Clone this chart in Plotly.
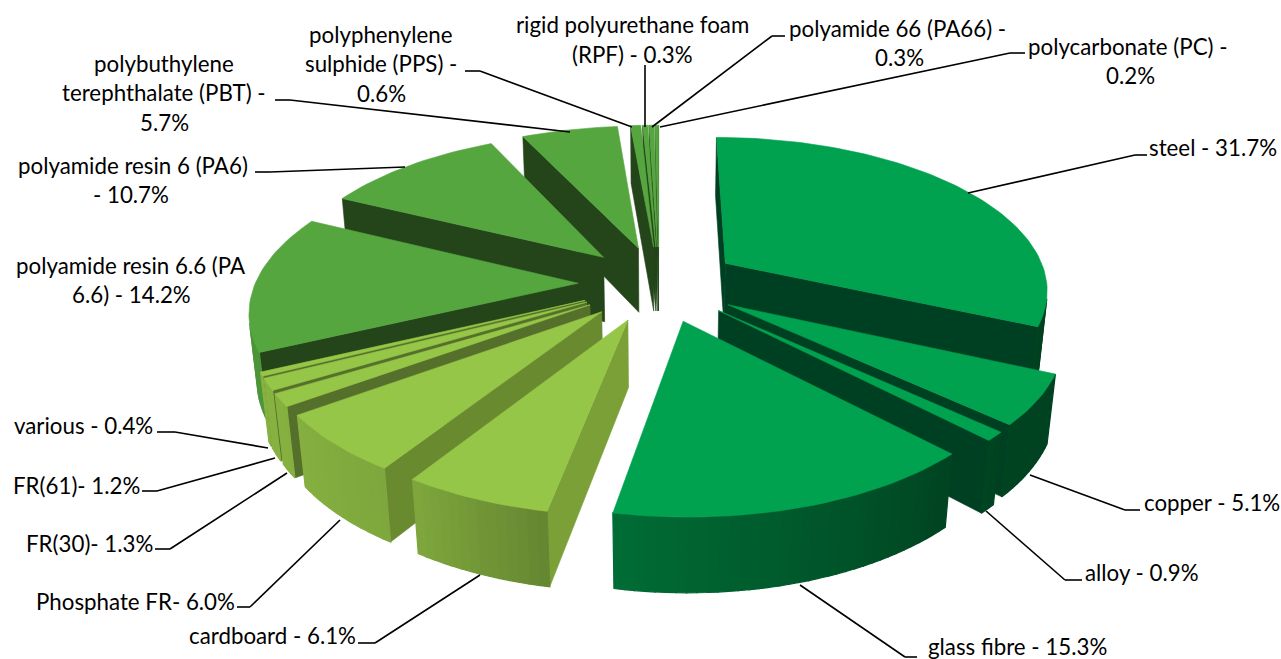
import numpy as np
import plotly.graph_objects as go

names = ["steel", "copper", "alloy", "glass fibre", "cardboard", "Phosphate FR", "FR(30)", "FR(61)", "various",
         "polyamide resin 6.6", "polyamide resin 6", "PBT", "PPS", "RPF", "PA66", "PC"]
values = [31.7, 5.1, 0.9, 15.3, 6.1, 6.0, 1.3, 1.2, 0.4, 14.2, 10.7, 5.7, 0.6, 0.3, 0.3, 0.2]
tops = ["#00A14F"] * 4 + ["#96C648"] * 5 + ["#56A640"] * 7
wall_left = ["#004022"] * 4 + ["#7BA038", "#6A8A30", "#55702A", "#55702A", "#55702A"] + ["#234519"] * 7
draw_order = [15, 14, 13, 12, 11, 10, 9, 8, 7, 6, 5, 4, 0, 1, 2, 3]

# (text, x centre, y centre) for every printed line of a label
label_lines = [
    ("steel - 31.7%", 1213, 147),
    ("copper - 5.1%", 1212, 502),
    ("alloy - 0.9%", 1142, 572),
    ("glass fibre - 15.3%", 1017, 646),
    ("cardboard - 6.1%", 272, 635),
    ("Phosphate FR- 6.0%", 135, 601),
    ("FR(30)- 1.3%", 89, 543),
    ("FR(61)- 1.2%", 76, 485),
    ("various - 0.4%", 83, 425),
    ("polyamide resin 6.6 (PA", 131, 265),
    ("6.6) - 14.2%", 131, 294),
    ("polyamide resin 6 (PA6)", 133, 165),
    ("- 10.7%", 131, 194),
    ("polybuthylene", 164, 63),
    ("terephthalate (PBT) -", 164, 92),
    ("5.7%", 164, 122),
    ("polyphenylene", 381, 34),
    ("sulphide (PPS) -", 381, 63),
    ("0.6%", 381, 93),
    ("rigid polyurethane foam", 632, 24),
    ("(RPF) - 0.3%", 632, 54),
    ("polyamide 66 (PA66) -", 897, 28),
    ("0.3%", 899, 57),
    ("polycarbonate (PC) -", 1128, 46),
    ("0.2%", 1130, 75),
]
leaders = [
    [(1147, 155), (1135, 155), (968, 193)],
    [(1140, 510), (1125, 510), (1030, 475)],
    [(1082, 580), (1065, 580), (986, 511)],
    [(917, 657), (905, 657), (800, 585)],
    [(358, 643), (375, 643), (480, 575)],
    [(237, 607), (250, 607), (340, 520)],
    [(155, 549), (170, 549), (287, 473)],
    [(142, 491), (157, 491), (275, 458)],
    [(157, 432), (175, 432), (268, 448)],
    [(255, 172), (270, 172), (405, 167)],
    [(275, 100), (290, 100), (570, 132)],
    [(465, 71), (480, 71), (632, 127)],
    [(645, 65), (645, 127)],
    [(785, 36), (772, 36), (652, 127)],
    [(1025, 53), (1010, 53), (660, 127)],
]

# camera
CX, CY = 659.0, 283.5
PITCH = np.radians(28.0)
DIST = 5.6
FOCAL = 323 * DIST
HEIGHT = 0.235
EXPLODE = 0.25


def project(X, Y, Z):
    yc = Y * np.sin(PITCH) + Z * np.cos(PITCH)
    zc = DIST + Y * np.cos(PITCH) - Z * np.sin(PITCH)
    return CX + FOCAL * X / zc, CY - FOCAL * yc / zc


def shade(hex_color, b):
    r, g, bl = [int(hex_color[i:i + 2], 16) for i in (1, 3, 5)]
    return f"rgb({r * b:.0f},{g * b:.0f},{bl * b:.0f})"


def brightness(angle):
    a = angle % 360
    return float(np.interp(a, [0, 100, 136, 190, 212, 240, 300, 360],
                           [.75, .40, .42, .67, .84, .90, .88, .75]))


fig = go.Figure()


def add_poly(xs, ys, color, name, width=0.6):
    fig.add_trace(go.Scatter(x=list(xs) + [xs[0]], y=list(ys) + [ys[0]], mode="lines", fill="toself",
                             fillcolor=color, line=dict(color=color, width=width),
                             hoverinfo="skip", showlegend=False, name=name))


def visible(xs, ys):
    xs = np.array(xs)
    ys = np.array(ys)
    area = 0.5 * np.sum(xs * np.roll(ys, -1) - np.roll(xs, -1) * ys)
    return area < 0  # screen y points down


edges = np.concatenate([[0], np.cumsum(values)]) / sum(values) * 360
for i in draw_order:
    a0, a1 = edges[i], edges[i + 1]
    mid = np.radians((a0 + a1) / 2)
    ox, oy = EXPLODE * np.sin(mid), EXPLODE * np.cos(mid)
    n = max(2, int((a1 - a0) / 1.5) + 1)
    th = np.radians(np.linspace(a0, a1, n))
    ax = ox + np.sin(th)
    ay = oy + np.cos(th)
    col, dark = tops[i], wall_left[i]

    def face(px, py, c, width=0.6):
        tx, ty = project(np.array(px), np.array(py), 0.0)
        bx, by = project(np.array(px), np.array(py), -HEIGHT)
        xs = list(tx) + list(bx[::-1])
        ys = list(ty) + list(by[::-1])
        if visible(xs, ys):
            add_poly(xs, ys, c, names[i], width)

    # radial walls, then the rim, then the top
    face([ax[-1], ox], [ay[-1], oy], dark)
    face([ox, ax[0]], [oy, ay[0]], dark)
    for j in range(n - 1):
        face([ax[j], ax[j + 1]], [ay[j], ay[j + 1]],
             shade(col, brightness(np.degrees((th[j] + th[j + 1]) / 2))), 1.2)
    tx, ty = project(np.concatenate([[ox], ax]), np.concatenate([[oy], ay]), 0.0)
    add_poly(list(tx), list(ty), col, names[i])

shapes = []
for path in leaders:
    for (x0, y0), (x1, y1) in zip(path[:-1], path[1:]):
        shapes.append(dict(type="line", x0=x0, y0=y0, x1=x1, y1=y1, xref="x", yref="y",
                           line=dict(color="black", width=1.6)))

annotations = [dict(text=t, x=x, y=y, xref="x", yref="y", showarrow=False, xanchor="center", yanchor="middle",
                    font=dict(family="Lato", size=22.3, color="black")) for t, x, y in label_lines]

fig.update_layout(width=1281, height=659, margin=dict(l=0, r=0, t=0, b=0), paper_bgcolor="white",
                  plot_bgcolor="white", showlegend=False, shapes=shapes, annotations=annotations,
                  xaxis=dict(range=[0, 1281], visible=False, fixedrange=True),
                  yaxis=dict(range=[659, 0], visible=False, fixedrange=True))
fig.write_html("out.html", config=dict(displayModeBar=False),
               post_script="document.body.style.margin='0';document.body.style.overflow='hidden';")
